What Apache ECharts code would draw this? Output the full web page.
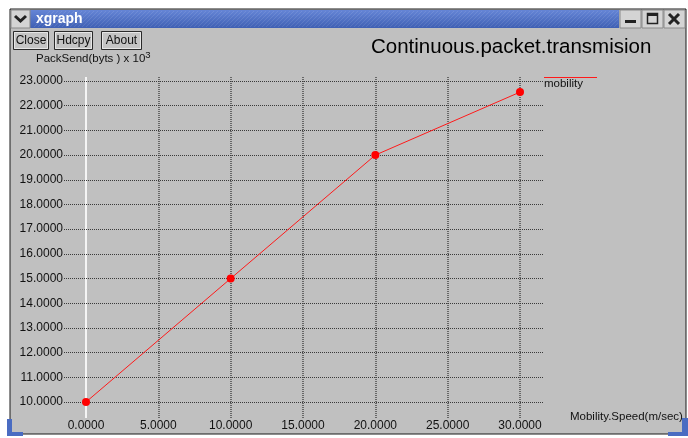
<!DOCTYPE html>
<html>
<head>
<meta charset="utf-8">
<script src="https://cdn.jsdelivr.net/npm/echarts@6/dist/echarts.min.js"></script>
<style>
  html, body { margin: 0; padding: 0; background: #ffffff; }
  #chart { width: 688px; height: 438px; }
</style>
</head>
<body>
<div id="chart"></div>
<script>
// ---- data ----
const speeds = [0, 10, 20, 30];
const packetsSent = [10.0, 15.0, 20.0, 22.55];
const xTicks = [0, 5, 10, 15, 20, 25, 30];
const yTicks = [10, 11, 12, 13, 14, 15, 16, 17, 18, 19, 20, 21, 22, 23];
const seriesName = 'mobility';
const titleText = 'Continuous.packet.transmision';
const xAxisName = 'Mobility.Speed(m/sec)';
const yAxisName = 'PackSend(byts ) x 10';
const yAxisExp = '3';
const windowTitle = 'xgraph';
const buttonLabels = ['Close', 'Hdcpy', 'About'];

// ---- layout ----
const FONT = '"Liberation Sans", Arial, Helvetica, sans-serif';
// plot frame (grid lines run past the first/last ticks, as xgraph draws them)
const frame = { left: 64, right: 543, top: 77, bottom: 418 };
// pixel positions of first and last tick on each axis
const xPix = [86, 520];
const yPix = [402, 81];

const xFirst = xTicks[0], xLast = xTicks[xTicks.length - 1];
const yFirst = yTicks[0], yLast = yTicks[yTicks.length - 1];
const xPerPx = (xLast - xFirst) / (xPix[1] - xPix[0]);
const yPerPx = (yLast - yFirst) / (yPix[0] - yPix[1]);
const xMin = xFirst - (xPix[0] - frame.left) * xPerPx;
const xMax = xLast + (frame.right - xPix[1]) * xPerPx;
const yMin = yFirst - (frame.bottom - yPix[0]) * yPerPx;
const yMax = yLast + (yPix[1] - frame.top) * yPerPx;

const points = speeds.map((s, i) => [s, packetsSent[i]]);
const lineColor = '#ff1a1a';

// ---- window chrome ----
const chrome = [];
// window body
chrome.push({ type: 'rect', z: -10, shape: { x: 10, y: 9, width: 676, height: 425 },
  style: { fill: '#c0c0c0', stroke: '#1a1a1a', lineWidth: 1 } });
// title bar
chrome.push({ type: 'rect', z: -9, shape: { x: 30, y: 10, width: 589, height: 18 },
  style: { fill: new echarts.graphic.LinearGradient(0, 0, 0, 1, [
    { offset: 0, color: '#6585d6' }, { offset: 1, color: '#3f60b4' }]) } });
// diagonal hatching across the title bar
for (let x = 34; x < 620; x += 4) {
  const x2 = Math.min(x + 16, 618);
  chrome.push({ type: 'line', z: -8, silent: true,
    shape: { x1: x, y1: 27, x2: x2, y2: 27 - (x2 - x) },
    style: { stroke: 'rgba(255,255,255,0.10)', lineWidth: 1 } });
}
chrome.push({ type: 'text', z: -7, style: { x: 36, y: 19, text: windowTitle, fill: '#ffffff',
  font: 'bold 14px ' + FONT, textVerticalAlign: 'middle' } });
// menu chevron box
chrome.push({ type: 'rect', z: -9, shape: { x: 11, y: 10, width: 19, height: 18 },
  style: { fill: '#d4d4d4', stroke: '#8a8a8a', lineWidth: 1 } });
chrome.push({ type: 'polyline', z: -8, shape: { points: [[15, 16], [20.5, 21], [26, 16]] },
  style: { stroke: '#222', lineWidth: 3, fill: null } });
// right-hand title buttons
[620, 642, 664].forEach((bx, i) => {
  chrome.push({ type: 'rect', z: -9, shape: { x: bx, y: 10, width: 21, height: 18 },
    style: { fill: '#d4d4d4', stroke: '#8a8a8a', lineWidth: 1 } });
  if (i === 0) {
    chrome.push({ type: 'rect', z: -8, shape: { x: bx + 5, y: 20, width: 11, height: 3 }, style: { fill: '#222' } });
  } else if (i === 1) {
    chrome.push({ type: 'rect', z: -8, shape: { x: bx + 5.5, y: 13.5, width: 10, height: 10 },
      style: { fill: null, stroke: '#222', lineWidth: 1.5 } });
    chrome.push({ type: 'rect', z: -8, shape: { x: bx + 5, y: 13, width: 11, height: 3 }, style: { fill: '#222' } });
  } else {
    chrome.push({ type: 'line', z: -8, shape: { x1: bx + 5, y1: 14, x2: bx + 15, y2: 24 }, style: { stroke: '#222', lineWidth: 3 } });
    chrome.push({ type: 'line', z: -8, shape: { x1: bx + 15, y1: 14, x2: bx + 5, y2: 24 }, style: { stroke: '#222', lineWidth: 3 } });
  }
});
// command buttons
const btnBoxes = [[13, 35], [54, 38], [101, 40]];
buttonLabels.forEach((label, i) => {
  const [bx, bw] = btnBoxes[i];
  chrome.push({ type: 'rect', z: -9, shape: { x: bx + 0.5, y: 31.5, width: bw, height: 18 },
    style: { fill: '#c4c4c4', stroke: '#2a2a2a', lineWidth: 1 } });
  chrome.push({ type: 'rect', z: -8, shape: { x: bx + 1.5, y: 32.5, width: bw - 2, height: 16 },
    style: { fill: null, stroke: '#e6e6e6', lineWidth: 1 } });
  chrome.push({ type: 'text', z: -7, style: { x: bx + bw / 2 + 0.5, y: 41, text: label, fill: '#111',
    font: '12px ' + FONT, textAlign: 'center', textVerticalAlign: 'middle' } });
});
// desktop panel slivers at the bottom corners
chrome.push({ type: 'rect', z: -9, shape: { x: 7, y: 419, width: 5, height: 17 }, style: { fill: '#4a6cc2' } });
chrome.push({ type: 'rect', z: -9, shape: { x: 7, y: 432, width: 16, height: 4 }, style: { fill: '#4a6cc2' } });
chrome.push({ type: 'rect', z: -9, shape: { x: 682, y: 418, width: 6, height: 18 }, style: { fill: '#4a6cc2' } });
chrome.push({ type: 'rect', z: -9, shape: { x: 668, y: 432, width: 20, height: 4 }, style: { fill: '#4a6cc2' } });

// axis titles and legend
const labels = [
  { type: 'text', z: 5, style: { x: 36, y: 59, text: '{a|' + yAxisName + '}{s|' + yAxisExp + '}',
    textVerticalAlign: 'middle',
    rich: { a: { font: '11.5px ' + FONT, fill: '#111' },
            s: { font: '9.5px ' + FONT, fill: '#111', padding: [0, 0, 7, 0] } } } },
  { type: 'text', z: 5, style: { x: 570, y: 417, text: xAxisName, fill: '#111',
    font: '11.5px ' + FONT, textVerticalAlign: 'middle' } },
  { type: 'rect', z: 6, shape: { x: 544, y: 77, width: 53, height: 1 },
    style: { fill: lineColor } },
  { type: 'text', z: 5, style: { x: 544, y: 84, text: seriesName, fill: '#111',
    font: '11.5px ' + FONT, textVerticalAlign: 'middle' } }
];

const dotted = { color: '#3a3a3a', width: 1, type: [1, 1] };
const gridLines = [
  ...xTicks.map(v => ({ xAxis: v, lineStyle: v === 0
      ? { color: '#f4f4f4', width: 2, type: 'solid' }
      : { color: '#4a4a4a', width: 1.5, type: [1, 1] } })),
  ...yTicks.map(v => ({ yAxis: v, lineStyle: dotted }))
];

const chart = echarts.init(document.getElementById('chart'), null, { renderer: 'canvas' });
chart.setOption({
  animation: false,
  backgroundColor: '#ffffff',
  title: {
    text: titleText, left: 371, top: 37, padding: 0,
    textStyle: { fontFamily: FONT, fontSize: 20.5, fontWeight: 'normal', color: '#000' }
  },
  grid: {
    left: frame.left, top: frame.top,
    width: frame.right - frame.left, height: frame.bottom - frame.top,
    containLabel: false
  },
  xAxis: {
    type: 'value', min: xMin, max: xMax,
    axisLine: { show: false }, axisTick: { show: false }, splitLine: { show: false },
    axisLabel: {
      customValues: xTicks, formatter: v => v.toFixed(4), margin: 2,
      fontFamily: FONT, fontSize: 12, color: '#111'
    }
  },
  yAxis: {
    type: 'value', min: yMin, max: yMax,
    axisLine: { show: false }, axisTick: { show: false }, splitLine: { show: false },
    axisLabel: {
      customValues: yTicks, formatter: v => v.toFixed(4), margin: 1,
      fontFamily: FONT, fontSize: 12, color: '#111'
    }
  },
  graphic: { elements: chrome.concat(labels) },
  series: [
    {
      name: 'grid', type: 'line', z: 1, silent: true,
      data: points, showSymbol: false, lineStyle: { opacity: 0 },
      markLine: {
        z: 1, silent: true, symbol: ['none', 'none'], label: { show: false },
        emphasis: { disabled: true }, data: gridLines
      }
    },
    {
      name: seriesName, type: 'line', z: 3,
      data: points,
      symbol: 'circle', symbolSize: 8,
      lineStyle: { color: lineColor, width: 1 },
      itemStyle: { color: '#ff0000' }
    }
  ]
});
</script>
</body>
</html>
